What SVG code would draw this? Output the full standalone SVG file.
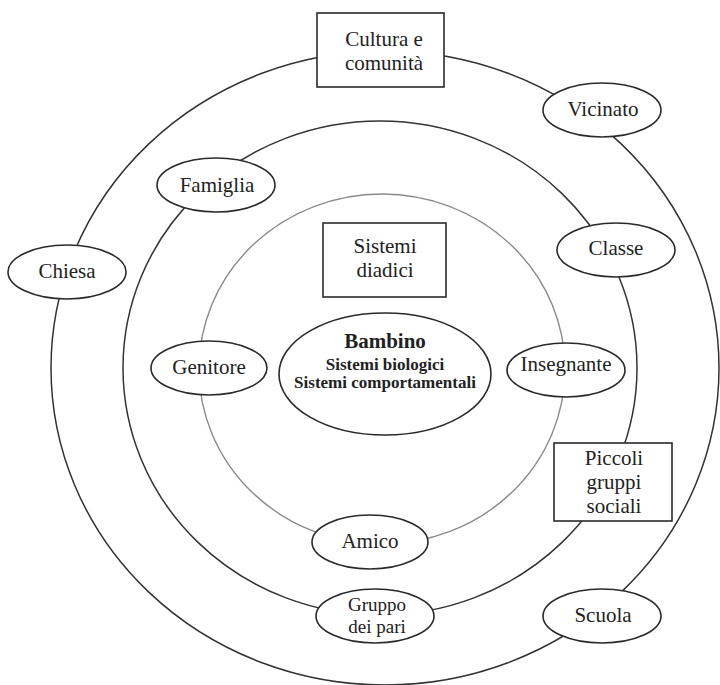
<svg xmlns="http://www.w3.org/2000/svg" width="720" height="685" viewBox="0 0 720 685">
<style>
text{font-family:"Liberation Serif","Times New Roman",serif;font-size:21px;fill:#222;text-anchor:middle}
.node{fill:#fff;stroke:#2a2a2a;stroke-width:1.6}
.ring{fill:none;stroke:#333;stroke-width:1.5}
.ring.inner{stroke:#8a8a8a;stroke-width:1.4}
.b{font-weight:bold}
.sub{font-size:17px}
.tight{font-size:19px}
</style>
<rect width="720" height="685" fill="#fff"/>
<g id="connectors">
<ellipse class="ring" cx="385" cy="368" rx="334" ry="317"/>
<ellipse class="ring" cx="380" cy="368" rx="257" ry="247"/>
<ellipse class="ring inner" cx="382" cy="369" rx="183" ry="175"/>
</g>
<g id="cultura"><rect class="node" x="317" y="13" width="127" height="74"/><text x="384" y="46">Cultura e</text><text x="384" y="70">comunità</text></g>
<g id="vicinato"><ellipse class="node" cx="602" cy="110" rx="59" ry="27"/><text x="603" y="116">Vicinato</text></g>
<g id="famiglia"><ellipse class="node" cx="216" cy="185" rx="59" ry="27"/><text x="217" y="192">Famiglia</text></g>
<g id="classe"><ellipse class="node" cx="616" cy="250" rx="59" ry="27"/><text x="616" y="255">Classe</text></g>
<g id="chiesa"><ellipse class="node" cx="67" cy="272" rx="59" ry="27"/><text x="67" y="278">Chiesa</text></g>
<g id="sistemi-diadici"><rect class="node" x="323" y="223" width="123" height="74"/><text x="385" y="253">Sistemi</text><text x="385" y="277">diadici</text></g>
<g id="bambino"><ellipse class="node" cx="385" cy="374" rx="106" ry="61"/><text class="b" x="385" y="348">Bambino</text><text class="b sub" x="385" y="370">Sistemi biologici</text><text class="b sub" x="385" y="388">Sistemi comportamentali</text></g>
<g id="genitore"><ellipse class="node" cx="209" cy="368" rx="58" ry="27"/><text x="209" y="374">Genitore</text></g>
<g id="insegnante"><ellipse class="node" cx="566" cy="370" rx="59" ry="27"/><text x="566" y="371">Insegnante</text></g>
<g id="piccoli-gruppi"><rect class="node" x="554" y="443" width="118" height="78"/><text x="614" y="465">Piccoli</text><text x="614" y="489">gruppi</text><text x="614" y="513">sociali</text></g>
<g id="amico"><ellipse class="node" cx="370" cy="542" rx="58" ry="27"/><text x="370" y="548">Amico</text></g>
<g id="gruppo-pari"><ellipse class="node" cx="375" cy="616" rx="59" ry="27"/><text class="tight" x="377" y="611">Gruppo</text><text class="tight" x="377" y="633">dei pari</text></g>
<g id="scuola"><ellipse class="node" cx="602" cy="616" rx="59" ry="27"/><text x="603" y="622">Scuola</text></g>
</svg>
